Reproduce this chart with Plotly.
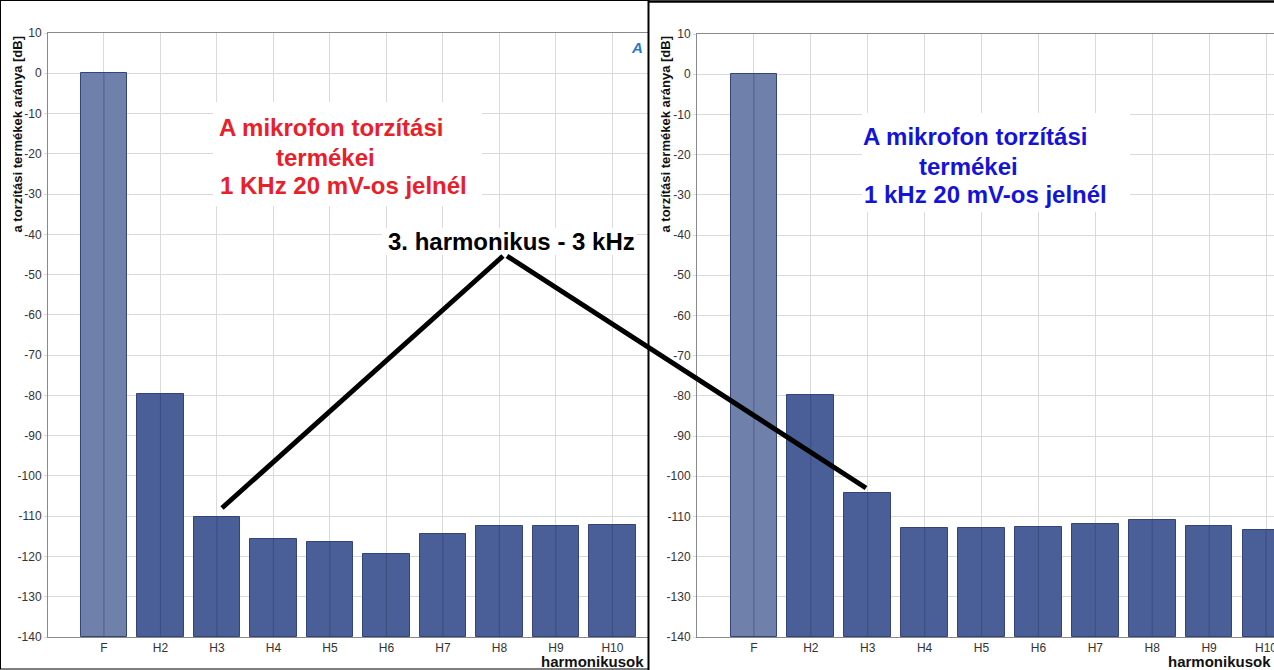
import plotly.graph_objects as go

W, H = 1274, 670

categories = ["F", "H2", "H3", "H4", "H5", "H6", "H7", "H8", "H9", "H10"]
left_db = [0, -79.6, -110.2, -115.6, -116.4, -119.3, -114.4, -112.4, -112.4, -112.2]
right_db = [0, -79.8, -104.2, -112.9, -112.9, -112.7, -112.0, -111.0, -112.4, -113.5]
y_ticks = list(range(-140, 11, 10))
y_floor = -140

fund_color = "#6f80ab"
harm_color = "#4a5f97"
bar_colors = [fund_color] + [harm_color] * (len(categories) - 1)


def px(x):
    return x / W


def py(y):
    return 1 - y / H


fig = go.Figure()
shapes = []
for vals, xa, ya in [(left_db, "x", "y"), (right_db, "x2", "y2")]:
    fig.add_trace(go.Bar(
        x=list(range(len(categories))),
        y=[v - y_floor for v in vals],
        base=y_floor,
        width=0.82,
        marker=dict(color=bar_colors, line=dict(color="#34447a", width=1)),
        xaxis=xa, yaxis=ya, showlegend=False,
    ))
    # category gridline showing through the bars
    for i, v in enumerate(vals):
        shapes.append(dict(type="line", xref=xa, yref=ya, x0=i, x1=i, y0=y_floor, y1=v,
                           line=dict(color="rgba(40,55,100,0.45)", width=1), layer="above"))

tickfont = dict(family="Liberation Sans, Arial", size=12, color="#333333")
common_x = dict(tickmode="array", tickvals=list(range(len(categories))), ticktext=categories,
                showgrid=True, gridcolor="#d9d9d9", gridwidth=1, zeroline=False,
                showline=True, linecolor="#8a8a8a", linewidth=1, mirror=True,
                ticks="", tickfont=tickfont, automargin=False, ticklabeloverflow="allow")
common_y = dict(range=[-140, 10], tickmode="array", tickvals=y_ticks,
                ticktext=[str(v) for v in y_ticks],
                showgrid=True, gridcolor="#d9d9d9", gridwidth=1, zeroline=False,
                showline=True, linecolor="#8a8a8a", linewidth=1,
                ticks="outside", ticklen=3, tickcolor="#d9d9d9", tickfont=tickfont, automargin=False)

fig.update_layout(
    width=W, height=H, margin=dict(l=0, r=0, t=0, b=0, pad=0), autosize=False,
    paper_bgcolor="white", plot_bgcolor="white", bargap=0,
    xaxis=dict(domain=[px(48), px(648)], range=[-0.99, 9.63], anchor="y", **common_x),
    yaxis=dict(domain=[py(637), py(33)], anchor="x", **common_y),
    xaxis2=dict(domain=[px(697), 1.0], range=[-1.0, 9.14], anchor="y2", **common_x),
    yaxis2=dict(domain=[py(637), py(34)], anchor="x2", **common_y),
)

# white boxes behind callout texts
for (x0, y0, x1, y1) in [(213, 102, 482, 206), (862, 113, 1130, 212), (382, 228, 637, 255)]:
    shapes.append(dict(type="rect", xref="paper", yref="paper", x0=px(x0), x1=px(x1),
                       y0=py(y1), y1=py(y0), fillcolor="white", line=dict(width=0), layer="above"))
# pointer lines
for (x0, y0, x1, y1) in [(503, 256, 222, 508), (507, 256, 866, 488)]:
    shapes.append(dict(type="line", xref="paper", yref="paper", x0=px(x0), y0=py(y0),
                       x1=px(x1), y1=py(y1), line=dict(color="black", width=5), layer="above"))
# screenshot frames
shapes.append(dict(type="line", xref="paper", yref="paper", x0=0, x1=px(648), y0=py(0.5), y1=py(0.5),
                   line=dict(color="black", width=1), layer="above"))
shapes.append(dict(type="line", xref="paper", yref="paper", x0=px(0.5), x1=px(0.5), y0=py(669), y1=1,
                   line=dict(color="black", width=1), layer="above"))
shapes.append(dict(type="line", xref="paper", yref="paper", x0=0, x1=px(648), y0=py(669), y1=py(669),
                   line=dict(color="black", width=1), layer="above"))
shapes.append(dict(type="line", xref="paper", yref="paper", x0=px(648.5), x1=px(648.5), y0=0, y1=1,
                   line=dict(color="black", width=2), layer="above"))
shapes.append(dict(type="line", xref="paper", yref="paper", x0=px(648), x1=1, y0=py(1.5), y1=py(1.5),
                   line=dict(color="black", width=2.5), layer="above"))
fig.update_layout(shapes=shapes)

bold = "Liberation Sans, Arial"
ann = []
red = "#e8202a"
blue = "#1414d8"
for txt, x, y in [("A mikrofon torzítási", 217, 128), ("termékei", 274, 157), ("1 KHz 20 mV-os jelnél", 218, 185)]:
    ann.append(dict(text="<b>%s</b>" % txt, x=px(x), y=py(y), xref="paper", yref="paper",
                    xanchor="left", yanchor="middle", showarrow=False,
                    font=dict(family=bold, size=24, color=red)))
for txt, x, y in [("A mikrofon torzítási", 861, 137), ("termékei", 917, 166), ("1 kHz 20 mV-os jelnél", 862, 194)]:
    ann.append(dict(text="<b>%s</b>" % txt, x=px(x), y=py(y), xref="paper", yref="paper",
                    xanchor="left", yanchor="middle", showarrow=False,
                    font=dict(family=bold, size=24, color=blue)))
ann.append(dict(text="<b>3. harmonikus - 3 kHz</b>", x=px(386), y=py(241), xref="paper", yref="paper",
                xanchor="left", yanchor="middle", showarrow=False,
                font=dict(family=bold, size=24, color="black")))
for x in [17, 665]:
    ann.append(dict(text="<b>a torzítási termékek aránya [dB]</b>", x=px(x), y=py(34), xref="paper",
                    yref="paper", xanchor="center", yanchor="top", textangle=-90, showarrow=False,
                    font=dict(family=bold, size=13, color="#111111")))
for x in [646, 1273]:
    ann.append(dict(text="<b>harmonikusok</b>", x=px(x), y=py(661), xref="paper", yref="paper",
                    xanchor="right", yanchor="middle", showarrow=False,
                    font=dict(family=bold, size=15, color="#111111")))
ann.append(dict(text="<b><i>A</i></b>", x=px(645), y=py(48), xref="paper", yref="paper",
                xanchor="right", yanchor="middle", showarrow=False,
                font=dict(family=bold, size=15, color="#2a78c8")))
fig.update_layout(annotations=ann)

fig.write_html("out.html", config={"responsive": False, "displayModeBar": False},
               post_script="document.body.style.margin='0';document.body.style.padding='0';")
